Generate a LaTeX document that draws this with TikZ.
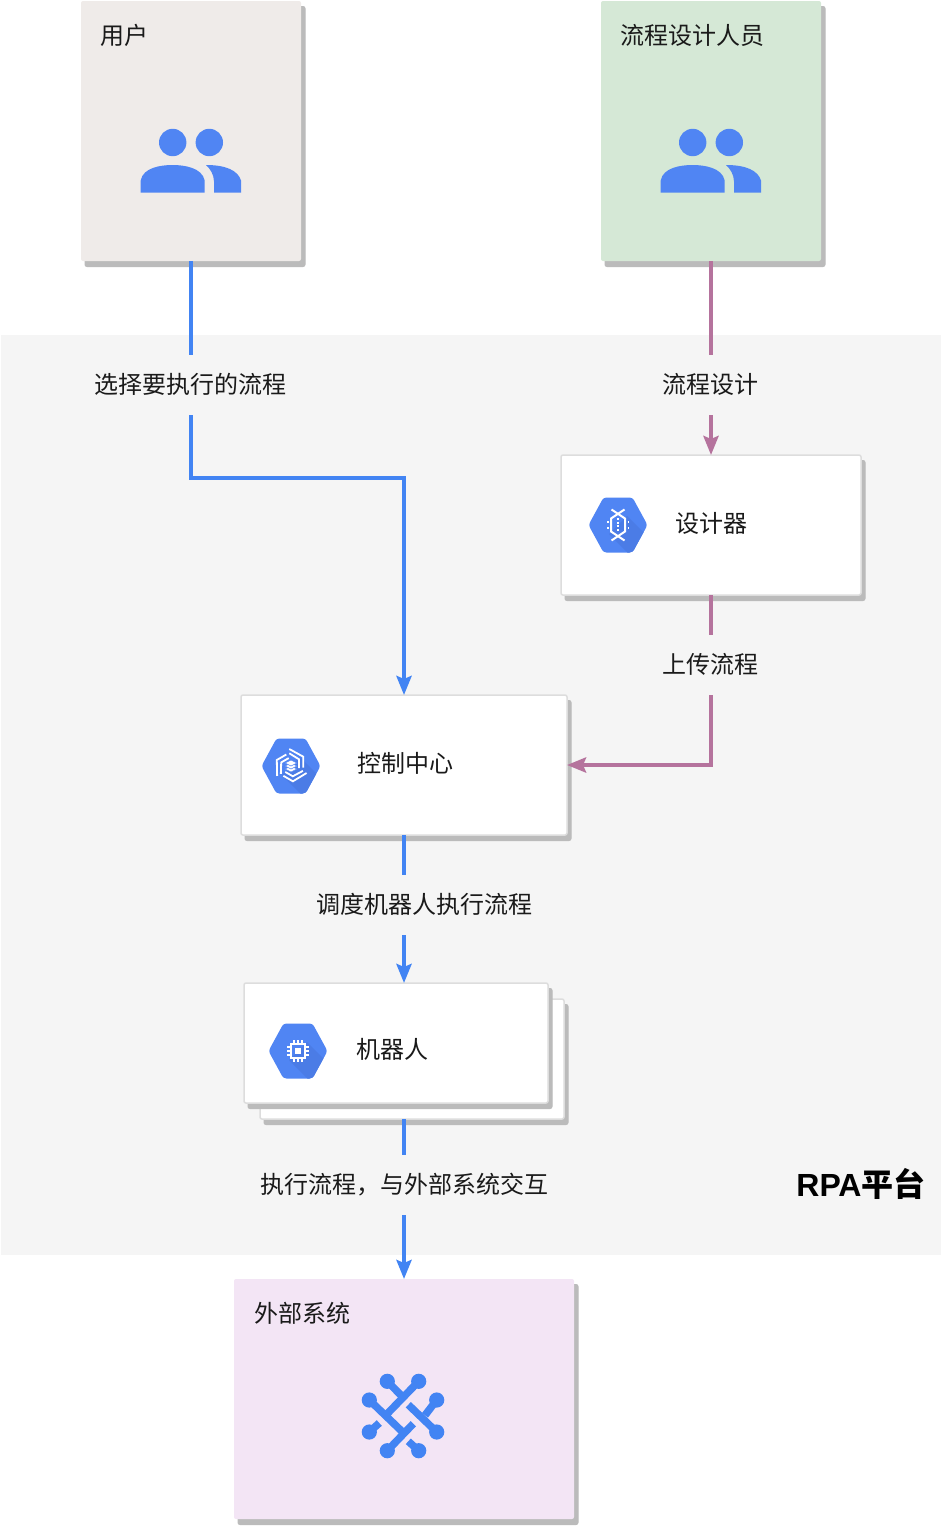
\documentclass[tikz,border=0pt]{standalone}
\usepackage{fontspec}
\usetikzlibrary{arrows.meta,shadows}
\setmainfont{Noto Sans CJK SC}
\newfontfamily\rpalatin{Liberation Sans}
\definecolor{platformgray}{HTML}{F5F5F5}
\definecolor{shadowgray}{HTML}{BBBBBB}
\definecolor{boxedge}{HTML}{DDDDDD}
\definecolor{userfill}{HTML}{EFEBE9}
\definecolor{designerfill}{HTML}{D5E8D6}
\definecolor{externalfill}{HTML}{F3E5F5}
\definecolor{flowblue}{HTML}{4284F3}
\definecolor{flowpurple}{HTML}{B5739D}
\definecolor{iconblue}{HTML}{5085F3}
\definecolor{icondark}{HTML}{4B7CE6}
\definecolor{textblack}{HTML}{1A1A1A}
\tikzset{
    cardbox/.style={rectangle, rounded corners=2pt, inner sep=0pt, outer sep=0pt,
        general shadow={fill=shadowgray, draw=shadowgray, line width=1pt, shadow xshift=4pt, shadow yshift=-5.5pt}},
    whitebox/.style={cardbox, fill=white, draw=boxedge, line width=1.5pt},
    cardtitle/.style={inner sep=0pt, text=textblack, font=\fontsize{24}{28}\selectfont},
    flowlabel/.style={fill=platformgray, inner sep=0pt, minimum height=60pt, text=textblack,
        text height=20pt, text depth=4pt, font=\fontsize{24}{28}\selectfont},
    blueflow/.style={draw=flowblue, line width=4pt, -{Stealth[length=19pt,width=15pt,inset=3pt]}},
    purpleflow/.style={draw=flowpurple, line width=4pt, -{Stealth[length=19pt,width=15pt,inset=3pt]}},
    % two people, drawn round the middle of the card
    people/.pic={
        \fill[iconblue] (-18.3,-25) circle (13.7) (18.3,-25) circle (13.7);
        \fill[iconblue] (-50.3,25) -- (-50.3,13) .. controls (-48,0) and (-30,-2.5) .. (-18.5,-2.5)
            .. controls (-7,-2.5) and (11,0) .. (13.7,13) -- (13.7,25) -- cycle;
        \fill[iconblue] (15,-2.5) .. controls (35,-2.5) and (47,3) .. (50,13) -- (50,25) -- (23,25) -- (23,14)
            .. controls (23,7) and (19,1) .. (15,-2.5) -- cycle;
    },
    hexbadge/.pic={
        \begin{scope}
            \clip[rounded corners=3pt] (-29.5,0) -- (-14.5,-27.5) -- (14.5,-27.5) -- (29.5,0) -- (14.5,27.5) -- (-14.5,27.5) -- cycle;
            \fill[iconblue] (-30,-30) rectangle (30,30);
            \fill[icondark] (9,-9) -- (36,18) -- (18,36) -- (-9,9) -- cycle;
        \end{scope}
    },
    whiteline/.style={draw=white, line width=2pt},
    nodeline/.style={draw=flowblue, line width=7.5pt},
}
\begin{document}
\begin{tikzpicture}[x=1pt, y=-1pt]
    \useasboundingbox (0,0) rectangle (942,1526);
    % Platform background
    \node[fill=platformgray, minimum width=940pt, minimum height=920pt, inner sep=0pt, outer sep=0pt] (platform) at (471,795) {};
    \node[inner sep=0pt, text=black, font=\fontsize{32}{36}\selectfont\bfseries] (platformname) at (861,1184) {{\rpalatin RPA}平台};
    % Cards
    \node[cardbox, fill=userfill, minimum width=220pt, minimum height=260pt] (user) at (191,131) {};
    \node[cardtitle] (usertitle) at (124,35) {用户};
    \pic at (191,167.5) {people};
    \node[cardbox, fill=designerfill, minimum width=220pt, minimum height=260pt] (author) at (711,131) {};
    \node[cardtitle] (authortitle) at (692,35) {流程设计人员};
    \pic at (711,167.5) {people};
    \node[whitebox, minimum width=300pt, minimum height=140pt] (designer) at (711,525) {};
    \node[cardtitle] (designertitle) at (711,523) {设计器};
    \node[whitebox, minimum width=326pt, minimum height=140pt] (control) at (404,765) {};
    \node[cardtitle] (controltitle) at (405,763) {控制中心};
    \node[whitebox, minimum width=304pt, minimum height=120pt] (robotback) at (412,1059) {};
    \node[whitebox, minimum width=304pt, minimum height=120pt] (robot) at (396,1043) {};
    \node[cardtitle] (robottitle) at (392,1049) {机器人};
    \node[cardbox, fill=externalfill, minimum width=340pt, minimum height=240pt] (external) at (404,1399) {};
    \node[cardtitle] (externaltitle) at (302,1313) {外部系统};
    % Designer icon
    \begin{scope}[shift={(618,525)}]
        \pic {hexbadge};
        \draw[whiteline] (-6.5,-15.5) -- (7,-6.5) -- (7,6.5) -- (-6.5,15.5);
        \draw[whiteline] (6.5,-15.5) -- (-7,-6.5) -- (-7,6.5) -- (6.5,15.5);
        \draw[whiteline, dash pattern=on 2pt off 1.7pt] (0,-7) -- (0,7);
        \foreach \rowy in {-3,3} {
            \draw[whiteline, line width=1.5pt] (-11,\rowy) -- (-9.5,\rowy) (9.5,\rowy) -- (11,\rowy);
        }
    \end{scope}
    % Control icon
    \begin{scope}[shift={(291,766)}]
        \pic {hexbadge};
        \foreach \turn in {0,120,240} {
            \begin{scope}[rotate=\turn]
                \draw[whiteline, line width=1.8pt] (-1.7,-17) -- (12.3,-9.3) -- (12.3,1.7);
                \draw[whiteline, line width=1.8pt] (-1.7,-12.7) -- (8,-6.7) -- (8,2);
            \end{scope}
        }
        \foreach \rowy in {3,0,-3} {
            \draw[fill=white, draw=iconblue, line width=0.6pt] (-6,\rowy) -- (0,\rowy-3) -- (6,\rowy) -- (0,\rowy+3) -- cycle;
        }
    \end{scope}
    % Robot icon
    \begin{scope}[shift={(298,1051)}]
        \pic {hexbadge};
        \draw[whiteline] (-7,-7) rectangle (7,7);
        \fill[white] (-3.4,-3.4) rectangle (3.4,3.4);
        \foreach \pin in {-4,0,4} {
            \draw[whiteline, line width=1.6pt] (\pin,-7) -- (\pin,-11) (\pin,7) -- (\pin,11);
            \draw[whiteline, line width=1.6pt] (-7,\pin) -- (-11,\pin) (7,\pin) -- (11,\pin);
        }
    \end{scope}
    % External system icon
    \begin{scope}[shift={(403,1416)}]
        \foreach \spotx/\spoty in {-15.7/-34.7, 15.7/-34.7, -33.7/-16, 33.7/-16, -33.7/16, 33.7/16, -15.7/34.7, 15.7/34.7} {
            \fill[flowblue] (\spotx,\spoty) circle (7.6);
        }
        \draw[nodeline] (-33.7,-16) -- (2,18.3);
        \draw[nodeline] (15.7,-34.7) -- (-15.7,-2.3);
        \draw[nodeline] (-15.7,-34.7) -- (-1.3,-20);
        \draw[nodeline] (-15.7,34.7) -- (10.3,7.7);
        \draw[nodeline] (5.3,-11.3) -- (33.7,16);
        \draw[nodeline] (33.7,-16) -- (22,-0.7);
        \draw[nodeline] (-33.7,16) -- (-23.7,7);
        \draw[nodeline] (15.7,34.7) -- (5.3,25.3);
    \end{scope}
    % Connectors
    \coordinate (userbend) at (191,478);
    \coordinate (uploadbend) at (711,765);
    \coordinate (robotout) at (404,1119);
    \draw[blueflow] (user.south) -- (userbend) -| (control.north);
    \draw[purpleflow] (author.south) -- (designer.north);
    \draw[purpleflow] (designer.south) -- (uploadbend) -- (control.east);
    \draw[blueflow] (control.south) -- (control.south |- robot.north);
    \draw[blueflow] (robotout) -- (external.north);
    % Connector labels
    \node[flowlabel] (selectlabel) at (190,385) {选择要执行的流程};
    \node[flowlabel] (authorlabel) at (710,385) {流程设计};
    \node[flowlabel] (uploadlabel) at (710,665) {上传流程};
    \node[flowlabel] (schedulelabel) at (424,905) {调度机器人执行流程};
    \node[flowlabel] (runlabel) at (404.5,1185) {执行流程，与外部系统交互};
\end{tikzpicture}
\end{document}
